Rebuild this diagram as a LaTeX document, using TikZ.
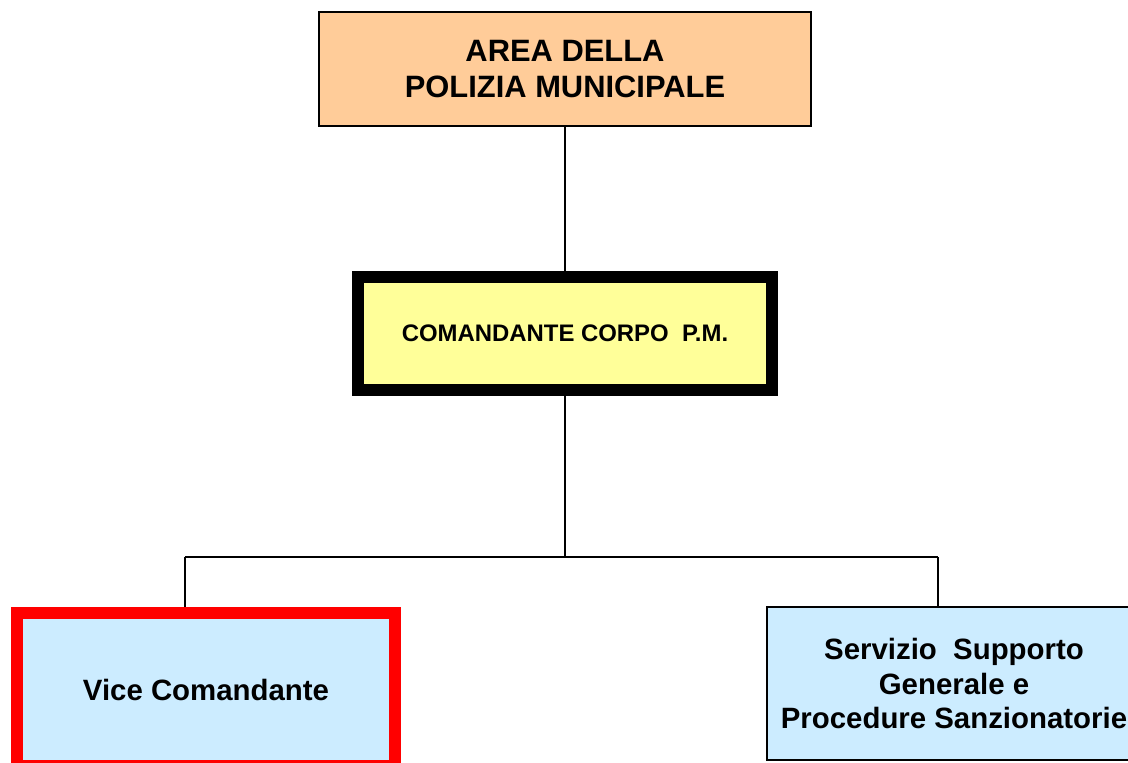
\documentclass[tikz,border=0pt]{standalone}
\usepackage{fontspec}
\setmainfont{Liberation Sans}
\usetikzlibrary{positioning}
\definecolor{areaorange}{HTML}{FFCC99}
\definecolor{comyellow}{HTML}{FFFF99}
\definecolor{unitblue}{HTML}{CCECFF}
\tikzset{
  unitbox/.style={draw=black,line width=1.6bp,align=center,inner sep=0pt,font=\bfseries},
  link/.style={draw=black,line width=1.3bp}
}
\begin{document}
\begin{tikzpicture}[x=1bp,y=-1bp]
\useasboundingbox (0,0) rectangle (1128,763);
% boxes of the chart
\node[unitbox,fill=areaorange,minimum width=492bp,minimum height=114bp,
  font=\bfseries\fontsize{31}{37}\selectfont] (area) at (565,69)
  {AREA DELLA\\POLIZIA MUNICIPALE};
\node[unitbox,fill=comyellow,line width=12bp,minimum width=414bp,minimum height=113bp,
  font=\bfseries\fontsize{24}{29}\selectfont] (comandante) at (565,333.5)
  {COMANDANTE CORPO\ \ P.M.};
\node[unitbox,fill=unitblue,draw=red,line width=12bp,minimum width=378bp,minimum height=153bp,
  font=\bfseries\fontsize{29.5}{35}\selectfont] (vice) at (206,689.5)
  {Vice Comandante};
\node[unitbox,fill=unitblue,minimum width=374bp,minimum height=153bp,
  font=\bfseries\fontsize{29.5}{35}\selectfont] (servizio) at (954,683.5)
  {Servizio\ \ Supporto\\Generale e\\Procedure Sanzionatorie};
% connectors
\coordinate (split) at (565,557);
\coordinate (leftend) at (185,557);
\coordinate (rightend) at (938,557);
\draw[link] (area.south) -- (comandante.north);
\draw[link] (comandante.south) -- (split);
\draw[link] (leftend) -- (rightend);
\draw[link] (leftend) -- (leftend |- vice.north);
\draw[link] (rightend) -- (rightend |- servizio.north);
\end{tikzpicture}
\end{document}
